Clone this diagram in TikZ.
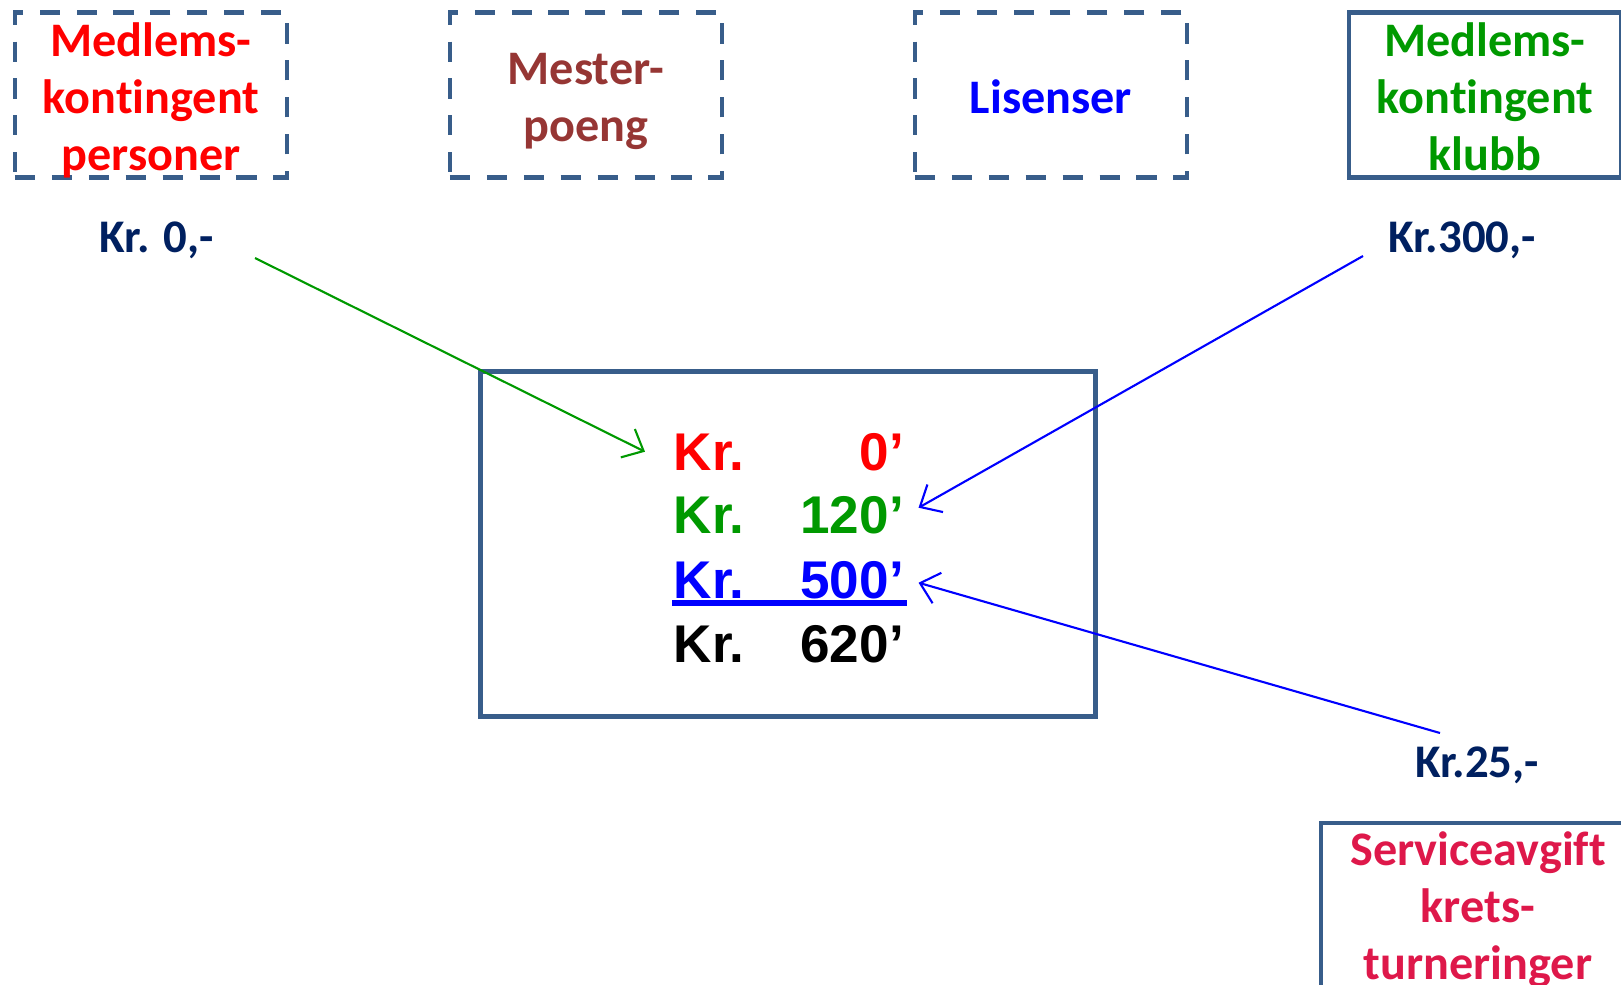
\documentclass[tikz,border=0pt]{standalone}
\usepackage{fontspec}
\setmainfont{Carlito}[Ligatures=NoCommon]
\newfontfamily\arialfont{Liberation Sans}
\usetikzlibrary{arrows.meta}
\definecolor{boxblue}{HTML}{385D8A}
\definecolor{kgreen}{HTML}{009900}
\definecolor{knavy}{HTML}{002060}
\definecolor{kbrown}{HTML}{963634}
\definecolor{kcrimson}{HTML}{DE184A}
\newcommand\capup{\rule{0pt}{14pt}}
\newcommand\capdown[1][3.6pt]{\rule[-#1]{0pt}{0pt}}
\begin{document}
\begin{tikzpicture}[x=0.01cm,y=-0.01cm,
    post/.style={draw=boxblue,line width=1.3pt,minimum width=2.72cm,minimum height=1.65cm,
      align=center,inner xsep=0pt,inner ysep=-3pt,font=\bfseries\fontsize{13.7}{16.2}\selectfont},
    dashpost/.style={post,dash pattern=on 5.7pt off 4.8pt},
    amount/.style={text=knavy,font=\bfseries\fontsize{13.3}{16}\selectfont},
    row/.style={anchor=base west,inner sep=0pt,text width=2.30cm,
      font=\arialfont\bfseries\fontsize{15.1}{18}\selectfont},
    flow/.style={line width=0.6pt,-{Straight Barb[length=5pt,width=9pt]}}]
    \clip (0,0) rectangle (1621,984);
    \node[dashpost,text=red] (pers) at (151,95) {\capup Medlems-\\kontingent\\personer\capdown};
    \node[dashpost,text=kbrown] (mester) at (586,95) {\capup Mester-\\poeng\capdown};
    \node[dashpost,text=blue] (lis) at (1051,95) {\capup Lisenser\capdown};
    \node[post,text=kgreen] (klubb) at (1485,95) {\capup Medlems-\\kontingent\\klubb\capdown};
    \node[post,text=kcrimson,minimum width=3.14cm,minimum height=1.78cm] (krets) at (1478,912)
      {\capup Serviceavgift\\krets-\\turneringer\capdown[8pt]};
    \node[amount] (kr0) at (157,240) {Kr. 0,-};
    \node[amount] (kr300) at (1462,240) {Kr.300,-};
    \node[amount] (kr25) at (1477,765) {Kr.25,-};
    \node[draw=boxblue,line width=1.3pt,minimum width=6.15cm,minimum height=3.45cm] (sum) at (788,544) {};
    \foreach \y/\c/\v/\n in {470/red/0/r0,533/kgreen/120/r1,598/blue/500/r2,662/black/620/r3}{
      \node[row,text=\c] (\n) at (673,\y) {\noindent Kr.\hfill\v’};
    };
    \draw[blue,line width=1.7pt] ([xshift=-0.01cm,yshift=-0.05cm]r2.base west) -- ([xshift=0.02cm,yshift=-0.05cm]r2.base east);
    \coordinate (s0) at (255,258);
    \coordinate (s300) at (1363,256);
    \coordinate (s25) at (1440,733);
    \draw[flow,kgreen] (s0) -- ([xshift=-0.28cm]r0.west);
    \draw[flow,blue] (s300) -- ([xshift=0.14cm,yshift=0.07cm]r1.east);
    \draw[flow,blue] (s25) -- ([xshift=0.14cm,yshift=-0.03cm]r2.east);
  \end{tikzpicture}
\end{document}
